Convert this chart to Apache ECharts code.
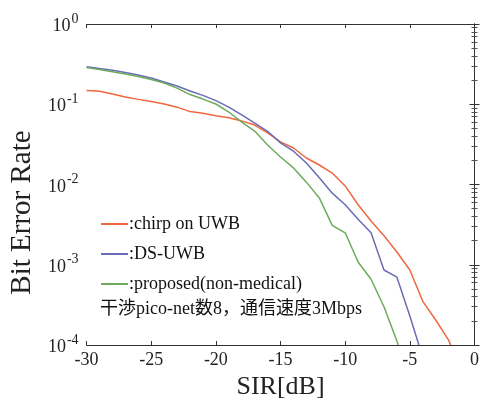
<!DOCTYPE html>
<html>
<head>
<meta charset="utf-8">
<script src="https://cdn.jsdelivr.net/npm/echarts@6/dist/echarts.min.js"></script>
<style>html,body{margin:0;padding:0;background:#fff}#chart{width:482px;height:405px}</style>
</head>
<body>
<div id="chart"></div>
<script>
var serif = '"Liberation Serif", "Noto Sans CJK JP"';
var seriesNames = ['chirp on UWB', 'DS-UWB', 'proposed(non-medical)'];
var colors = ['#f0673f', '#6a6cb5', '#6cab5c'];

// SIR [dB] / BER
var sirChirp = [-30, -29, -28, -27, -26, -25, -24, -23, -22, -21, -20, -19, -18, -17, -16, -15,
    -14, -13, -12, -11, -10, -9, -8, -7, -6, -5, -4, -3, -2, -1.85];
var berChirp = [0.148, 0.145, 0.134, 0.123, 0.115, 0.108, 0.101, 0.092, 0.081, 0.077, 0.072, 0.068,
    0.062, 0.055, 0.044, 0.034, 0.0285, 0.0214, 0.0175, 0.0139, 0.0096, 0.0056, 0.0035, 0.0023,
    0.00144, 0.00086, 0.00035, 0.000205, 0.000115, 0.0001];

var sirDs = [-30, -29, -28, -27, -26, -25, -24, -23, -22, -21, -20, -19, -18, -17, -16, -15,
    -14, -13, -12, -11, -10, -9, -8, -7, -6, -5, -4.3];
var berDs = [0.294, 0.279, 0.265, 0.249, 0.231, 0.212, 0.189, 0.169, 0.146, 0.129, 0.111, 0.092,
    0.0735, 0.058, 0.046, 0.033, 0.026, 0.0185, 0.0121, 0.0078, 0.0056, 0.0037, 0.0025, 0.00086,
    0.0007, 0.00023, 0.0001];

var sirProp = [-30, -29, -28, -27, -26, -25, -24, -23, -22, -21, -20, -19, -18, -17, -16, -15,
    -14, -13, -12, -11, -10, -9, -8, -7, -6, -5.9];
var berProp = [0.287, 0.271, 0.254, 0.238, 0.222, 0.203, 0.184, 0.159, 0.132, 0.116, 0.1007, 0.080,
    0.060, 0.0464, 0.031, 0.022, 0.0161, 0.0107, 0.0068, 0.0031, 0.0025, 0.00108, 0.00066, 0.0003,
    0.000112, 0.0001];

var xTicks = { min: -30, max: 0, interval: 5 };
var note = '干渉pico-net数8，通信速度3Mbps';

function pairs(xs, ys) {
    var out = [];
    for (var i = 0; i < xs.length; i++) out.push([xs[i], ys[i]]);
    return out;
}

var dom = document.getElementById('chart');
var myChart = echarts.init(dom);

var axisLine = { show: true, lineStyle: { color: '#333', width: 1 } };

var option = {
    animation: false,
    backgroundColor: '#fff',
    grid: { left: 83, right: 7, top: 24, bottom: 60 },
    legend: {
        orient: 'vertical',
        left: 96,
        top: 210,
        itemGap: 12,
        itemWidth: 27,
        itemHeight: 2,
        icon: 'rect',
        formatter: ':{name}',
        textStyle: { fontFamily: serif, fontSize: 18, color: '#111', padding: [0, 0, 0, -4] },
        data: seriesNames
    },
    graphic: [{
        type: 'text',
        left: 100,
        top: 300,
        style: { text: note, font: '18px ' + serif, fill: '#111' }
    }],
    xAxis: [{
        type: 'value',
        min: xTicks.min, max: xTicks.max, interval: xTicks.interval,
        name: 'SIR[dB]',
        nameLocation: 'middle',
        nameGap: 26,
        nameTextStyle: { fontFamily: serif, fontSize: 26, color: '#222' },
        axisLine: axisLine,
        axisTick: { inside: true, length: 4, lineStyle: { color: '#333' } },
        axisLabel: { fontFamily: serif, fontSize: 18, color: '#222', margin: 6 },
        splitLine: { show: false }
    }, {
        type: 'value', position: 'top',
        min: xTicks.min, max: xTicks.max, interval: xTicks.interval,
        axisLine: axisLine,
        axisTick: { inside: true, length: 4, lineStyle: { color: '#333' } },
        axisLabel: { show: false },
        splitLine: { show: false }
    }],
    yAxis: [{
        type: 'log',
        logBase: 10,
        min: 1e-4, max: 1,
        name: 'Bit Error Rate',
        nameLocation: 'middle',
        nameGap: 46,
        nameTextStyle: { fontFamily: serif, fontSize: 29, color: '#222', padding: [0, 56, 0, 0] },
        axisLine: axisLine,
        axisTick: { inside: true, length: 5, lineStyle: { color: '#333' } },
        minorTick: { show: true, splitNumber: 9, length: 3, lineStyle: { color: '#555' } },
        axisLabel: {
            margin: 8,
            padding: [5, 0, 0, 0],
            formatter: function (v) {
                return '{b|10}{s|' + Math.round(Math.log10(v)) + '}';
            },
            rich: {
                b: { fontFamily: serif, fontSize: 18, color: '#222' },
                s: { fontFamily: serif, fontSize: 14, color: '#222', padding: [0, 0, 15, 1] }
            }
        },
        splitLine: { show: false }
    }, {
        type: 'log', position: 'right',
        logBase: 10,
        min: 1e-4, max: 1,
        axisLine: axisLine,
        axisTick: { inside: true, length: 5, lineStyle: { color: '#333' } },
        minorTick: { show: true, splitNumber: 9, length: 3, lineStyle: { color: '#555' } },
        axisLabel: { show: false },
        splitLine: { show: false }
    }],
    series: [{
        name: seriesNames[0], type: 'line', showSymbol: false, symbol: 'none',
        color: colors[0], lineStyle: { width: 1.5 },
        data: pairs(sirChirp, berChirp)
    }, {
        name: seriesNames[1], type: 'line', showSymbol: false, symbol: 'none',
        color: colors[1], lineStyle: { width: 1.5 },
        data: pairs(sirDs, berDs)
    }, {
        name: seriesNames[2], type: 'line', showSymbol: false, symbol: 'none',
        color: colors[2], lineStyle: { width: 1.5 },
        data: pairs(sirProp, berProp)
    }]
};

if (option && typeof option === 'object') {
    myChart.setOption(option, true);
}
</script>
</body>
</html>
